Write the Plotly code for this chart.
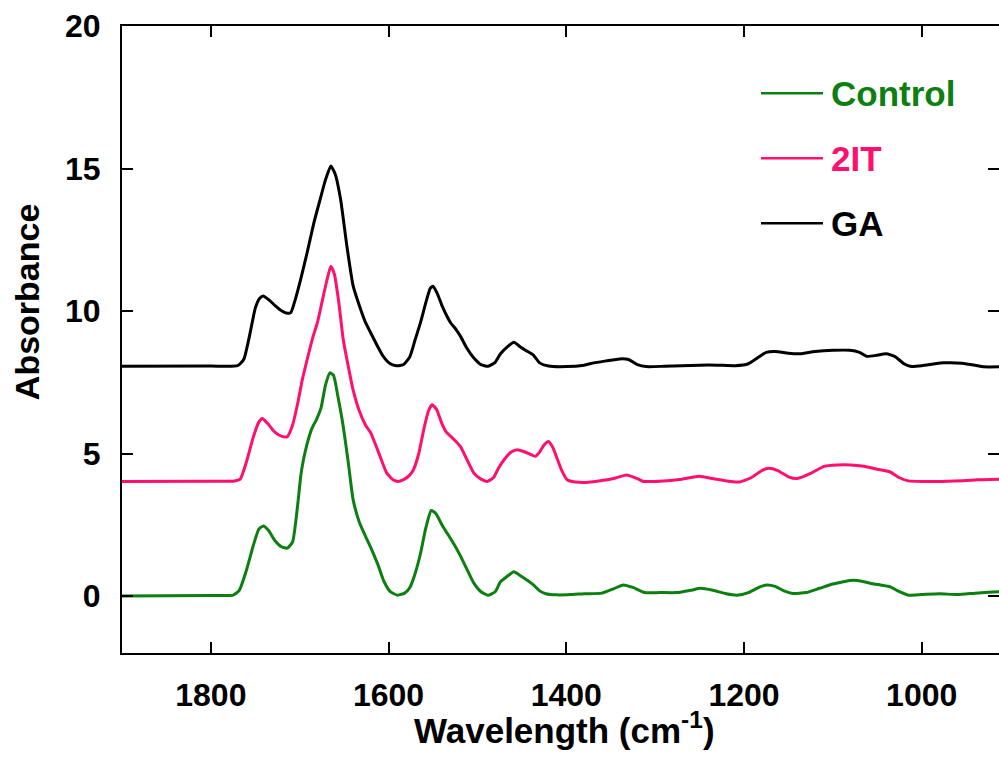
import plotly.graph_objects as go

# FTIR spectra (stacked with vertical offsets of 0, 4 and 8)
control_wn = [1900, 1800, 1775, 1768, 1760, 1752, 1746, 1741, 1735, 1728, 1720, 1714, 1708, 1703,
              1698, 1692, 1686, 1681, 1676, 1671, 1666, 1662, 1657, 1651, 1645, 1640, 1633, 1626,
              1620, 1612, 1605, 1598, 1590, 1582, 1576, 1570, 1564, 1558, 1552, 1547, 1540, 1534,
              1527, 1519, 1512, 1504, 1496, 1488, 1480, 1474, 1466, 1459, 1452, 1444, 1437, 1430,
              1423, 1410, 1395, 1380, 1360, 1347, 1336, 1325, 1312, 1295, 1275, 1260, 1249, 1235,
              1220, 1208, 1195, 1182, 1174, 1165, 1155, 1145, 1130, 1115, 1100, 1088, 1077, 1065,
              1058, 1045, 1036, 1025, 1015, 1000, 980, 960, 940, 925, 912]
control_abs = [0.0, 0.02, 0.03, 0.2, 0.9, 1.8, 2.35, 2.46, 2.3, 1.95, 1.72, 1.68, 1.9, 3.0,
               4.4, 5.3, 5.9, 6.2, 6.6, 7.4, 7.83, 7.75, 7.0, 5.95, 4.6, 3.4, 2.6, 2.1,
               1.7, 1.1, 0.5, 0.15, 0.03, 0.1, 0.3, 0.8, 1.5, 2.4, 3.0, 2.9, 2.5, 2.2,
               1.85, 1.4, 0.95, 0.45, 0.15, 0.03, 0.15, 0.5, 0.7, 0.85, 0.72, 0.55, 0.39, 0.18,
               0.08, 0.04, 0.05, 0.08, 0.1, 0.25, 0.39, 0.3, 0.12, 0.12, 0.12, 0.2, 0.27, 0.2,
               0.08, 0.03, 0.12, 0.32, 0.39, 0.34, 0.18, 0.09, 0.12, 0.27, 0.42, 0.5, 0.55, 0.5,
               0.45, 0.38, 0.33, 0.15, 0.03, 0.05, 0.08, 0.05, 0.1, 0.13, 0.15]

it2_wn = [1900, 1800, 1775, 1767, 1760, 1752, 1746, 1742, 1736, 1728, 1720, 1714, 1708, 1702,
          1697, 1690, 1685, 1680, 1675, 1670, 1665, 1661, 1656, 1651, 1645, 1640, 1633, 1626,
          1620, 1612, 1602, 1595, 1589, 1582, 1576, 1572, 1566, 1560, 1555, 1551, 1546, 1540,
          1535, 1530, 1525, 1519, 1512, 1504, 1496, 1489, 1482, 1476, 1470, 1462, 1455, 1448,
          1441, 1435, 1430, 1425, 1420, 1415, 1410, 1405, 1399, 1390, 1375, 1360, 1347, 1332,
          1320, 1313, 1295, 1270, 1250, 1235, 1215, 1205, 1192, 1180, 1172, 1162, 1150, 1140,
          1125, 1110, 1095, 1080, 1065, 1050, 1036, 1025, 1015, 1000, 970, 950, 938, 912]
it2_abs = [4.02, 4.03, 4.03, 4.1, 4.7, 5.6, 6.1, 6.23, 6.05, 5.75, 5.6, 5.59, 6.0, 6.8,
           7.6, 8.5, 9.1, 9.6, 10.3, 11.0, 11.57, 11.3, 10.3, 9.0, 8.0, 7.24, 6.5, 6.0,
           5.72, 5.1, 4.31, 4.08, 4.02, 4.1, 4.25, 4.43, 5.0, 5.9, 6.5, 6.71, 6.55, 6.05,
           5.75, 5.6, 5.45, 5.24, 4.8, 4.31, 4.1, 4.02, 4.15, 4.5, 4.78, 5.05, 5.13, 5.07,
           4.98, 4.9, 5.05, 5.3, 5.42, 5.2, 4.8, 4.4, 4.08, 4.0, 3.99, 4.05, 4.12, 4.25,
           4.12, 4.02, 4.03, 4.1, 4.2, 4.12, 4.02, 4.0, 4.15, 4.4, 4.48, 4.4, 4.18, 4.12,
           4.3, 4.55, 4.6, 4.6, 4.55, 4.45, 4.36, 4.15, 4.04, 4.02, 4.03, 4.05, 4.08, 4.1]

ga_wn = [1900, 1800, 1770, 1763, 1756, 1750, 1745, 1741, 1735, 1728, 1720, 1714, 1710, 1705,
         1699, 1692, 1684, 1677, 1671, 1665, 1660, 1654, 1647, 1640, 1633, 1626, 1620, 1613,
         1606, 1598, 1591, 1583, 1576, 1570, 1564, 1558, 1553, 1550, 1545, 1540, 1534, 1530,
         1524, 1519, 1512, 1504, 1496, 1488, 1480, 1474, 1466, 1459, 1452, 1444, 1437, 1430,
         1420, 1400, 1380, 1369, 1355, 1340, 1330, 1320, 1310, 1290, 1270, 1250, 1230, 1210,
         1195, 1185, 1175, 1165, 1150, 1137, 1120, 1100, 1081, 1070, 1062, 1050, 1040, 1030,
         1020, 1013, 1000, 985, 975, 955, 940, 930, 912]
ga_abs = [8.06, 8.07, 8.08, 8.3, 9.2, 10.1, 10.45, 10.53, 10.4, 10.2, 10.0, 9.92, 9.94, 10.4,
          11.1, 12.0, 13.1, 13.92, 14.6, 15.09, 14.8, 13.92, 12.3, 10.9, 10.2, 9.6, 9.23, 8.8,
          8.41, 8.15, 8.08, 8.12, 8.4, 9.0, 9.6, 10.3, 10.8, 10.87, 10.6, 10.2, 9.8, 9.58,
          9.35, 9.11, 8.7, 8.35, 8.12, 8.06, 8.2, 8.5, 8.75, 8.9, 8.75, 8.59, 8.45, 8.18,
          8.07, 8.05, 8.1, 8.18, 8.25, 8.32, 8.3, 8.12, 8.05, 8.06, 8.08, 8.1, 8.1, 8.08,
          8.15, 8.35, 8.55, 8.58, 8.52, 8.5, 8.58, 8.62, 8.62, 8.55, 8.41, 8.45, 8.5, 8.4,
          8.15, 8.06, 8.08, 8.15, 8.18, 8.17, 8.1, 8.04, 8.04]

series_names = ["Control", "2IT", "GA"]
series_colors = ["#0b7f10", "#ff0f6e", "#000000"]
series_x = [control_wn, it2_wn, ga_wn]
series_y = [control_abs, it2_abs, ga_abs]

x_ticks = [1800, 1600, 1400, 1200, 1000]
y_ticks = [0, 5, 10, 15, 20]

FONT = "Liberation Sans, Arial, sans-serif"

fig = go.Figure()
for name, color, xs, ys in zip(series_names, series_colors, series_x, series_y):
    fig.add_trace(go.Scatter(
        x=xs, y=ys, mode="lines", name=name,
        line=dict(color=color, width=3, shape="spline", smoothing=0.5),
        showlegend=False,
    ))

# Legend drawn as line samples with coloured labels
legend_top = 0.8927
legend_step = 0.1037
for i, (name, color) in enumerate(zip(series_names, series_colors)):
    yy = legend_top - i * legend_step
    fig.add_shape(type="line", xref="paper", yref="paper",
                  x0=0.7286, x1=0.7993, y0=yy, y1=yy,
                  line=dict(color=color, width=2.5))
    fig.add_annotation(xref="paper", yref="paper", x=0.8063, y=yy,
                       xanchor="left", yanchor="middle", showarrow=False,
                       text=name, font=dict(family=FONT, size=35, color=color, weight="bold"))

# Axis titles placed as annotations
fig.add_annotation(xref="paper", yref="paper", x=-0.108, y=0.56,
                   xanchor="center", yanchor="middle", showarrow=False, textangle=-90,
                   text="Absorbance", font=dict(family=FONT, size=34, color="black", weight="bold"))
fig.add_annotation(xref="paper", yref="paper", x=0.504, y=-0.119,
                   xanchor="center", yanchor="middle", showarrow=False,
                   text="Wavelength (cm<sup>-1</sup>)",
                   font=dict(family=FONT, size=35, color="black", weight="bold"))

axis_common = dict(
    showgrid=False, zeroline=False, showline=True, linecolor="black", linewidth=2,
    ticks="inside", ticklen=11, tickwidth=2, tickcolor="black", mirror="ticks",
    tickfont=dict(family=FONT, size=32, color="black", weight="bold"),
)

fig.update_layout(
    width=999, height=764,
    margin=dict(l=122, r=0, t=26, b=111),
    paper_bgcolor="white", plot_bgcolor="white",
    xaxis=dict(range=[1900, 913], tickvals=x_ticks, automargin=False, ticklabelstandoff=13,
               **axis_common),
    yaxis=dict(range=[-2, 20], tickvals=y_ticks, automargin=False, ticklabelstandoff=13,
               **axis_common),
)

fig.write_html("out.html")
